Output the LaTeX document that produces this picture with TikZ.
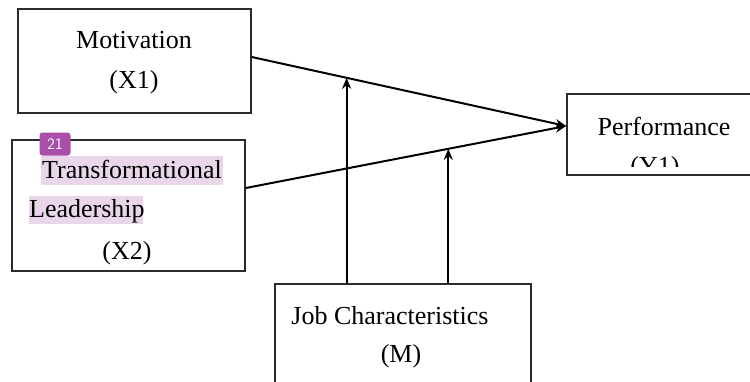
\documentclass[tikz,border=0pt]{standalone}
\usepackage{fontspec}
\setmainfont{Liberation Serif}
\usetikzlibrary{arrows.meta,calc}
\definecolor{boxline}{HTML}{2B2B2B}
\definecolor{hl}{HTML}{E9D6EB}
\definecolor{badge}{HTML}{A94FA9}
\tikzset{
  box/.style={draw=boxline,line width=1.5pt,fill=none,inner sep=0pt},
  lbl/.style={anchor=base,inner sep=0pt,font=\fontsize{26}{30}\selectfont},
  conn/.style={draw=black,line width=2pt,-{Stealth[length=11pt,width=9pt]}}
}
\begin{document}
\begin{tikzpicture}[x=1pt,y=-1pt]
\useasboundingbox (0,0) rectangle (750,381);
\clip (0,0) rectangle (750,381);
% boxes
\node[box,minimum width=233pt,minimum height=104pt] (mot) at (134.5,61) {};
\node[box,minimum width=233pt,minimum height=131pt] (tl) at (128.5,205.5) {};
\node[box,minimum width=200pt,minimum height=81pt] (perf) at (667,134.5) {};
\node[box,minimum width=256pt,minimum height=110pt] (jc) at (403,339) {};
% highlights and badge
\fill[hl] (41,156) rectangle (223,185);
\fill[hl] (29,196) rectangle (143,224);
\node[fill=badge,rounded corners=3pt,minimum width=31pt,minimum height=23pt,inner sep=0pt,text=white,font=\sffamily\fontsize{16}{18}\selectfont] (badge) at (55,144) {21};
% texts
\node[lbl] (t1) at (134,48) {Motivation};
\node[lbl] (t2) at (134,88) {(X1)};
\node[lbl,anchor=base west] (t3) at (42,178) {Transformational};
\node[lbl,anchor=base west] (t4) at (29,217) {Leadership};
\node[lbl] (t5) at (127,259) {(X2)};
\node[lbl] (t6) at (664,135) {Performance};
\begin{scope}
\clip (560,140) rectangle (760,166);
\node[lbl] (t7) at (655,174) {(Y1)};
\end{scope}
\node[lbl] (t8) at (390,324) {Job Characteristics};
\node[lbl] (t9) at (401,362) {(M)};
% connectors
\coordinate (s1) at (mot.east |- 0,57);
\coordinate (s2) at (tl.east |- 0,188);
\coordinate (e1) at (perf.west |- 0,126);
\draw[conn] (s1) -- (e1);
\draw[conn] (s2) -- (e1);
\coordinate (m1) at ($(s1)!0.3016!(e1)$);
\coordinate (m2) at ($(s2)!0.632!(e1)$);
\draw[conn] (jc.north -| m1) -- (m1);
\draw[conn] (jc.north -| m2) -- (m2);
\end{tikzpicture}
\end{document}
